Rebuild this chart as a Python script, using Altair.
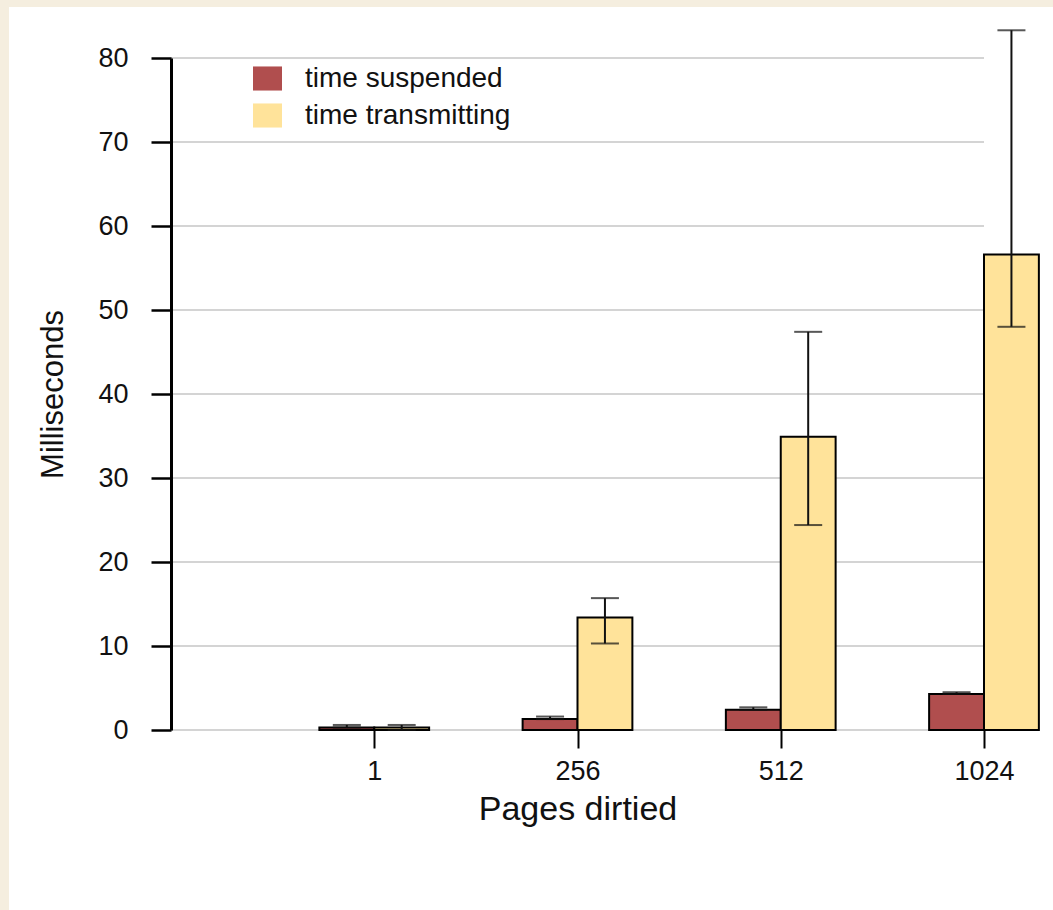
import altair as alt
import pandas as pd

# Categories and series
pages = ["1", "256", "512", "1024"]
series = ["time suspended", "time transmitting"]

# Milliseconds: mean, lower and upper error-bar ends
suspended = [0.3, 1.3, 2.4, 4.3]
suspended_lo = [0.3, 1.3, 2.4, 4.3]
suspended_hi = [0.6, 1.6, 2.7, 4.5]
transmitting = [0.3, 13.4, 34.9, 56.6]
transmitting_lo = [0.0, 10.3, 24.4, 48.0]
transmitting_hi = [0.6, 15.7, 47.4, 83.3]

y_ticks = [0, 10, 20, 30, 40, 50, 60, 70, 80]
colors = ["#B04E4E", "#FFE39A"]

FONT = "Liberation Sans"
W, H = 813, 672
LEFT, TOP = 171, 58
BAR = 0.27  # width of one bar in group units

rows = []
for i, p in enumerate(pages):
    pos = i + 1
    groups = [
        (series[0], suspended, suspended_lo, suspended_hi),
        (series[1], transmitting, transmitting_lo, transmitting_hi),
    ]
    for k, (name, vals, lo, hi) in enumerate(groups):
        left = pos - BAR if k == 0 else pos
        rows.append(dict(page=p, series=name, value=vals[i], lo=lo[i], hi=hi[i],
                         left=left, right=left + BAR, mid=left + BAR / 2))
df = pd.DataFrame(rows)

x_scale = alt.Scale(domain=[0, 4], nice=False, zero=False)
y_scale = alt.Scale(domain=[0, 80], nice=False)

label_js = "[" + ",".join("'%s'" % p for p in pages) + "][datum.value - 1]"

y_axis = alt.Axis(values=y_ticks, title="Milliseconds", grid=False,
                  domainColor="black", domainWidth=3, tickColor="black",
                  tickWidth=2.5, tickSize=20, labelFontSize=27, labelPadding=23,
                  labelColor="#111", labelFlush=False, titleFontSize=31,
                  titlePadding=28, titleColor="#111", titleFontWeight="normal",
                  zindex=1)
x_axis = alt.Axis(values=[1, 2, 3, 4], labelExpr=label_js, title="Pages dirtied",
                  grid=False, domain=False, tickColor="black", tickWidth=2,
                  tickSize=18, labelFontSize=27, labelPadding=10, labelColor="#111",
                  labelFlush=False, labelOverlap=False, titleFontSize=34,
                  titlePadding=8, titleColor="#111", titleFontWeight="normal",
                  zindex=1)

# white page panel
backdrop = alt.Chart(pd.DataFrame({"a": [0]})).mark_rect(fill="white").encode(
    x=alt.value(9 - LEFT), x2=alt.value(W + 120),
    y=alt.value(7 - TOP), y2=alt.value(H + 240),
)

grid = alt.Chart(pd.DataFrame({"v": y_ticks})).mark_rule(
    color="#d4d4d4", strokeWidth=2
).encode(
    y=alt.Y("v:Q", scale=y_scale, axis=y_axis),
    x=alt.value(0), x2=alt.value(W),
)

bars = alt.Chart(df).mark_rect(stroke="black", strokeWidth=2).encode(
    x=alt.X("left:Q", scale=x_scale, axis=x_axis),
    x2="right:Q",
    y=alt.Y("value:Q", scale=y_scale),
    y2=alt.datum(0),
    color=alt.Color(
        "series:N",
        scale=alt.Scale(domain=series, range=colors),
        legend=alt.Legend(title=None, orient="none", legendX=82, legendY=6,
                          symbolType="M-1,-0.83H1V0.83H-1Z", symbolSize=841,
                          symbolStrokeWidth=0, labelFontSize=28, labelColor="#111",
                          labelLimit=0, labelOffset=23, rowPadding=8, padding=0,
                          zindex=1),
    ),
)

whisker = alt.Chart(df).mark_rule(color="#111", strokeWidth=2).encode(
    x="mid:Q", y="lo:Q", y2="hi:Q"
)

caps = alt.Chart(df).transform_fold(["lo", "hi"], as_=["end", "level"]).mark_tick(
    orient="horizontal", size=28, thickness=2, color="#111"
).encode(x="mid:Q", y="level:Q")

chart = alt.layer(backdrop, grid, bars, whisker, caps).properties(
    width=W, height=H,
    autosize=alt.AutoSizeParams(type="none"),
    padding={"left": LEFT, "top": TOP, "right": 1053 - LEFT - W, "bottom": 910 - TOP - H},
    background="#F5EEDF",
).configure(font=FONT).configure_view(stroke=None)

chart.save("out.html", embed_options={"renderer": "svg", "actions": False})
